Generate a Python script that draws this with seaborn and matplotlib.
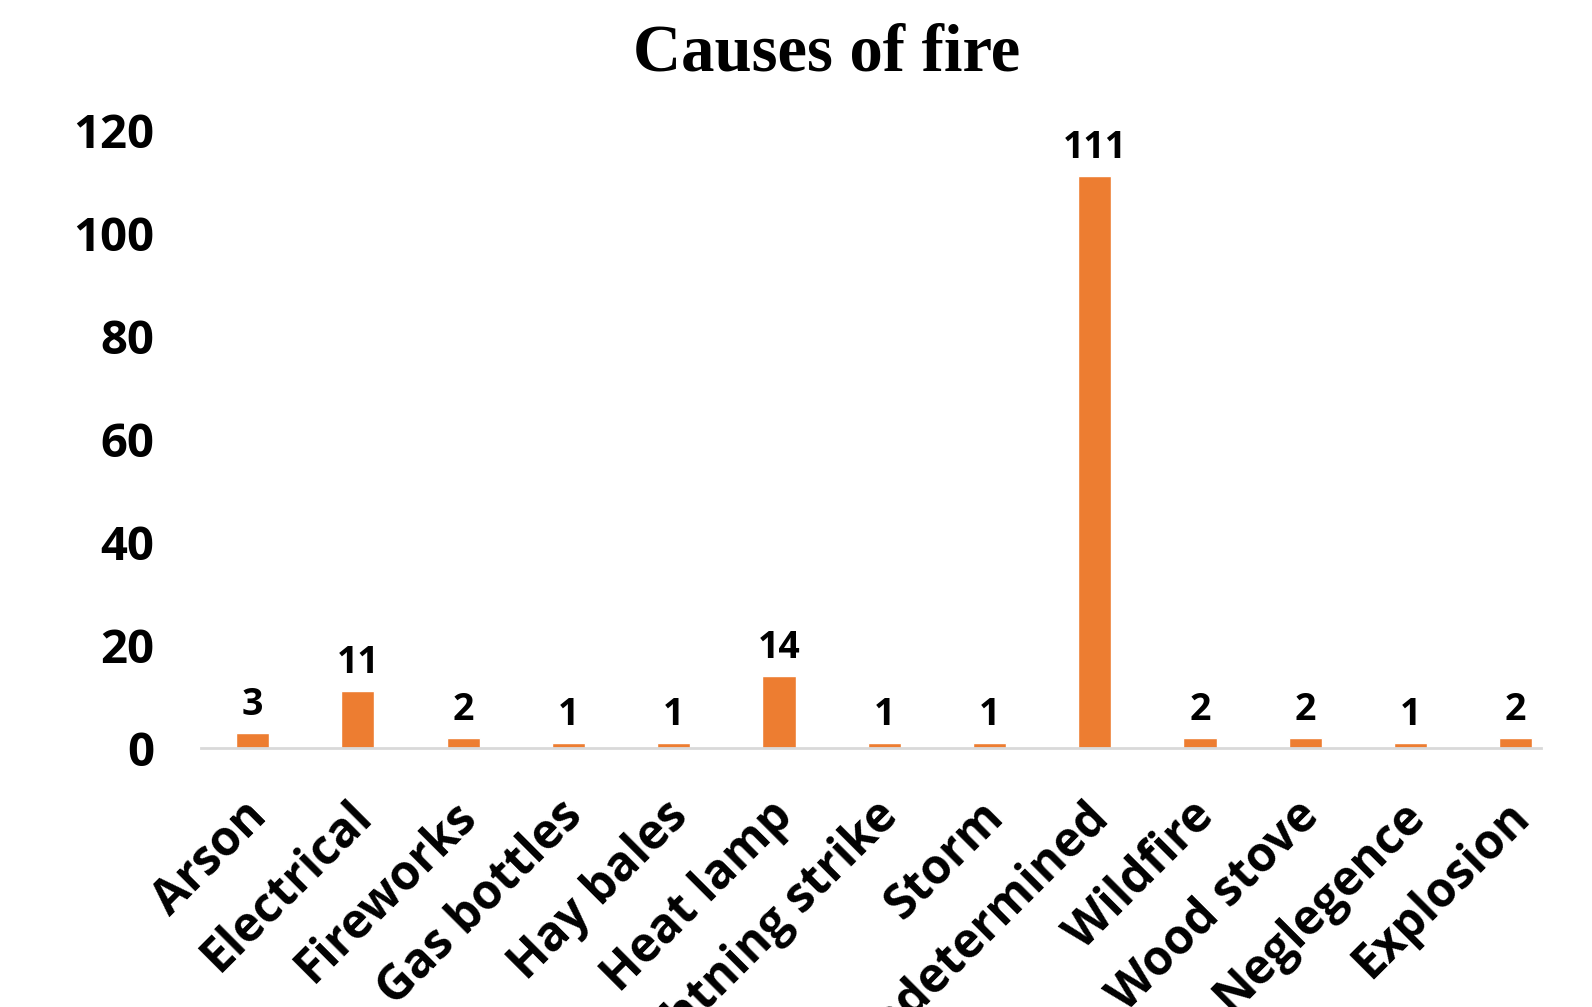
import matplotlib
matplotlib.use("Agg")
import matplotlib.pyplot as plt
import matplotlib.transforms as mtransforms
import seaborn as sns
import pandas as pd

causes = ["Arson", "Electrical", "Fireworks", "Gas bottles", "Hay bales", "Heat lamp",
          "Lightning strike", "Storm", "Undetermined", "Wildfire", "Wood stove",
          "Neglegence", "Explosion"]
counts = [3, 11, 2, 1, 1, 14, 1, 1, 111, 2, 2, 1, 2]
y_ticks = [0, 20, 40, 60, 80, 100, 120]

bar_color = "#ED7D31"
sans = ["Open Sans", "DejaVu Sans"]

sns.set_theme(style="white")
plt.rcParams["font.family"] = sans
plt.rcParams["text.color"] = "black"
plt.rcParams["xtick.color"] = "black"
plt.rcParams["ytick.color"] = "black"

df = pd.DataFrame({"cause": causes, "count": counts})

fig = plt.figure(figsize=(15.92, 10.07), dpi=100)
ax = fig.add_axes([0.1263, 0.2572, 0.968 - 0.1263, 0.871 - 0.2572])

sns.barplot(data=df, x="cause", y="count", color=bar_color, saturation=1,
            width=0.315, ax=ax)

ax.set_ylim(0, 120)
ax.set_xlim(-0.49, 12.24)
ax.set_yticks(y_ticks)
ax.set_yticklabels([str(v) for v in y_ticks], fontsize=34, fontweight="bold")
ax.tick_params(axis="y", length=0, pad=34)
ax.tick_params(axis="x", length=0, pad=44)
ax.set_xticks(range(len(causes)))
ax.set_xticklabels(causes, rotation=45, ha="right", va="center",
                   rotation_mode="anchor", fontsize=34.5, fontweight="bold")
shift = mtransforms.ScaledTranslation(7 / 100, 0, fig.dpi_scale_trans)
for lbl in ax.get_xticklabels():
    lbl.set_transform(lbl.get_transform() + shift)
ax.set_xlabel("")
ax.set_ylabel("")

for side in ["left", "right", "top"]:
    ax.spines[side].set_visible(False)
ax.spines["bottom"].set_color("#D9D9D9")
ax.spines["bottom"].set_linewidth(2)

for i, v in enumerate(counts):
    ax.annotate(str(v), xy=(i, v), xytext=(0, 6.5), textcoords="offset points",
                ha="center", va="bottom", fontsize=27, fontweight="bold",
                color="black")

fig.text(0.519, 0.93, "Causes of fire", ha="center", va="baseline",
         fontsize=48, fontweight="bold", color="black",
         family=["Liberation Serif", "DejaVu Serif"])

fig.savefig("out.png", dpi=100, facecolor="white")
